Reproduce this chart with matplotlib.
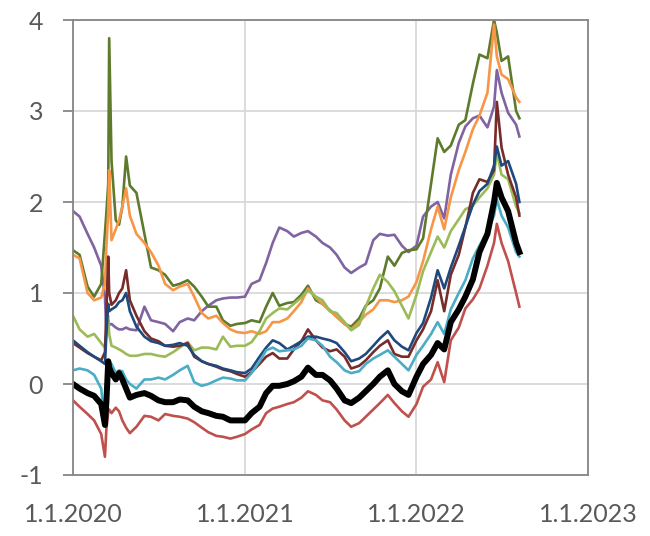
import matplotlib
matplotlib.use("Agg")
import matplotlib.pyplot as plt
import pandas as pd

plt.rcParams['font.family'] = ['Lato', 'DejaVu Sans']
plt.rcParams['axes.unicode_minus'] = False

dates_2020 = ["2020-01-01", "2020-01-15", "2020-02-01", "2020-02-15", "2020-03-01", "2020-03-09",
              "2020-03-12", "2020-03-16", "2020-03-18", "2020-03-23", "2020-04-01", "2020-04-08",
              "2020-04-15", "2020-04-23", "2020-05-01", "2020-05-15", "2020-06-01", "2020-06-15",
              "2020-07-01", "2020-07-15", "2020-08-01", "2020-08-15", "2020-09-01", "2020-09-15",
              "2020-10-01", "2020-10-15", "2020-11-01", "2020-11-15", "2020-12-01", "2020-12-15"]
dates_2021 = ["2021-01-01", "2021-01-15", "2021-02-01", "2021-02-15", "2021-03-01", "2021-03-15",
              "2021-04-01", "2021-04-15", "2021-05-01", "2021-05-15", "2021-06-01", "2021-06-15",
              "2021-07-01", "2021-07-15", "2021-08-01", "2021-08-15", "2021-09-01", "2021-09-15",
              "2021-10-01", "2021-10-15", "2021-11-01", "2021-11-15", "2021-12-01", "2021-12-15"]
dates_2022 = ["2022-01-01", "2022-01-15", "2022-02-01", "2022-02-15", "2022-03-01", "2022-03-15",
              "2022-04-01", "2022-04-15", "2022-05-01", "2022-05-15", "2022-06-01", "2022-06-15",
              "2022-06-21", "2022-07-01", "2022-07-15", "2022-08-01", "2022-08-08"]

black = [0.00, -0.05, -0.10, -0.13, -0.22, -0.45, -0.20, 0.25, 0.18, 0.12, 0.05, 0.12, 0.05, -0.05, -0.15,
         -0.12, -0.10, -0.13, -0.18, -0.20, -0.20, -0.17, -0.18, -0.25, -0.30, -0.32, -0.35, -0.36, -0.40, -0.40,
         -0.40, -0.32, -0.25, -0.10, -0.02, -0.02, 0.00, 0.03, 0.08, 0.18, 0.10, 0.10, 0.04, -0.05, -0.18,
         -0.21, -0.15, -0.08, 0.00, 0.08, 0.15, 0.00, -0.08, -0.12,
         0.08, 0.22, 0.32, 0.45, 0.38, 0.68, 0.82, 0.96, 1.15, 1.45, 1.65, 2.00, 2.21, 2.05, 1.90, 1.55, 1.45]
red = [-0.18, -0.25, -0.33, -0.40, -0.55, -0.80, -0.50, -0.30, -0.28, -0.32, -0.26, -0.30, -0.40, -0.48, -0.54,
       -0.47, -0.35, -0.36, -0.40, -0.33, -0.35, -0.36, -0.38, -0.42, -0.48, -0.53, -0.57, -0.58, -0.60, -0.58,
       -0.55, -0.50, -0.45, -0.32, -0.27, -0.25, -0.22, -0.20, -0.15, -0.08, -0.12, -0.18, -0.20, -0.28, -0.40,
       -0.47, -0.43, -0.36, -0.28, -0.21, -0.12, -0.21, -0.30, -0.36,
       -0.22, -0.03, 0.05, 0.24, 0.02, 0.48, 0.62, 0.83, 0.93, 1.05, 1.30, 1.55, 1.76, 1.55, 1.35, 1.00, 0.85]
cyan = [0.15, 0.17, 0.15, 0.10, -0.05, -0.45, -0.10, 0.12, 0.18, 0.22, 0.12, 0.15, 0.14, 0.05, 0.00,
        -0.05, 0.05, 0.05, 0.07, 0.05, 0.10, 0.15, 0.20, 0.02, -0.02, 0.00, 0.04, 0.07, 0.06, 0.04,
        0.04, 0.12, 0.25, 0.37, 0.40, 0.36, 0.37, 0.38, 0.42, 0.50, 0.48, 0.42, 0.30, 0.24, 0.15,
        0.12, 0.14, 0.22, 0.28, 0.32, 0.37, 0.30, 0.22, 0.15,
        0.32, 0.42, 0.55, 0.68, 0.55, 0.82, 1.00, 1.14, 1.38, 1.52, 1.68, 1.85, 2.03, 1.85, 1.72, 1.45, 1.40]
dark_blue = [0.48, 0.42, 0.35, 0.30, 0.25, 0.22, 0.55, 0.88, 0.80, 0.82, 0.85, 0.90, 0.92, 1.00, 0.80,
             0.63, 0.52, 0.47, 0.45, 0.42, 0.43, 0.45, 0.42, 0.32, 0.25, 0.22, 0.20, 0.17, 0.15, 0.13,
             0.12, 0.17, 0.30, 0.40, 0.48, 0.45, 0.38, 0.42, 0.47, 0.52, 0.52, 0.50, 0.48, 0.45, 0.35,
             0.25, 0.28, 0.33, 0.42, 0.50, 0.58, 0.48, 0.41, 0.37,
             0.56, 0.67, 0.95, 1.25, 1.05, 1.28, 1.52, 1.73, 1.97, 2.12, 2.20, 2.40, 2.61, 2.40, 2.45, 2.20, 2.00]
dark_red = [0.45, 0.40, 0.34, 0.30, 0.26, 0.35, 0.80, 1.40, 1.00, 0.87, 0.92, 1.00, 1.05, 1.25, 0.92,
            0.75, 0.58, 0.50, 0.47, 0.42, 0.41, 0.42, 0.45, 0.30, 0.25, 0.22, 0.19, 0.16, 0.14, 0.11,
            0.08, 0.13, 0.22, 0.30, 0.34, 0.28, 0.28, 0.38, 0.47, 0.60, 0.48, 0.40, 0.36, 0.38, 0.30,
            0.17, 0.20, 0.26, 0.35, 0.42, 0.48, 0.33, 0.30, 0.30,
            0.48, 0.60, 0.80, 1.14, 0.80, 1.20, 1.42, 1.72, 2.10, 2.25, 2.22, 2.35, 3.10, 2.60, 2.30, 2.05, 1.85]
light_green = [0.75, 0.60, 0.52, 0.55, 0.45, 0.40, 0.55, 0.75, 0.55, 0.42, 0.40, 0.38, 0.36, 0.33, 0.31,
               0.31, 0.33, 0.33, 0.31, 0.30, 0.35, 0.40, 0.46, 0.37, 0.40, 0.40, 0.38, 0.52, 0.41, 0.42,
               0.42, 0.46, 0.58, 0.72, 0.78, 0.83, 0.82, 0.88, 0.95, 1.03, 0.96, 0.92, 0.80, 0.78, 0.68,
               0.59, 0.65, 0.85, 1.05, 1.20, 1.12, 1.02, 0.86, 0.72,
               0.98, 1.24, 1.45, 1.62, 1.50, 1.68, 1.81, 1.92, 1.96, 2.05, 2.15, 2.30, 2.54, 2.30, 2.25, 1.95, 1.88]
orange = [1.42, 1.38, 1.00, 0.92, 0.95, 1.10, 1.50, 1.90, 2.35, 1.58, 1.70, 1.80, 1.95, 2.15, 1.85,
          1.65, 1.55, 1.45, 1.30, 1.10, 1.03, 1.07, 1.10, 0.96, 0.78, 0.72, 0.75, 0.67, 0.60, 0.57,
          0.56, 0.58, 0.55, 0.58, 0.68, 0.68, 0.72, 0.80, 0.90, 1.05, 0.95, 0.88, 0.80, 0.74, 0.66,
          0.60, 0.68, 0.76, 0.82, 0.92, 0.92, 0.90, 0.92, 0.96,
          1.12, 1.35, 1.70, 1.95, 1.70, 2.05, 2.35, 2.55, 2.80, 2.95, 3.20, 3.95, 3.60, 3.40, 3.35, 3.15, 3.10]
olive = [1.47, 1.42, 1.07, 0.96, 1.10, 1.66, 1.88, 2.20, 3.80, 2.45, 1.80, 1.75, 1.95, 2.50, 2.18,
         2.10, 1.65, 1.28, 1.25, 1.20, 1.08, 1.10, 1.14, 1.07, 0.96, 0.85, 0.85, 0.70, 0.64, 0.66,
         0.67, 0.70, 0.68, 0.85, 1.00, 0.86, 0.89, 0.90, 0.98, 1.08, 0.92, 0.88, 0.81, 0.74, 0.66,
         0.63, 0.72, 0.86, 0.92, 1.05, 1.40, 1.30, 1.44, 1.47,
         1.48, 1.60, 2.20, 2.70, 2.55, 2.62, 2.85, 2.90, 3.30, 3.62, 3.58, 4.00, 3.86, 3.55, 3.60, 3.00, 2.92]
purple = [1.90, 1.84, 1.65, 1.50, 1.30, 0.95, 0.60, 0.70, 0.65, 0.66, 0.62, 0.60, 0.60, 0.62, 0.60,
          0.59, 0.85, 0.70, 0.68, 0.66, 0.58, 0.68, 0.72, 0.70, 0.80, 0.86, 0.92, 0.94, 0.95, 0.95,
          0.96, 1.10, 1.14, 1.33, 1.55, 1.72, 1.68, 1.62, 1.66, 1.68, 1.62, 1.55, 1.50, 1.42, 1.28,
          1.22, 1.28, 1.32, 1.58, 1.65, 1.63, 1.64, 1.52, 1.45,
          1.52, 1.84, 1.95, 2.00, 1.82, 2.30, 2.65, 2.83, 2.92, 2.95, 2.82, 3.05, 3.45, 3.20, 2.98, 2.85, 2.72]

x_ticks = ["2020-01-01", "2021-01-01", "2022-01-01", "2023-01-01"]
x_tick_labels = ["1.1.2020", "1.1.2021", "1.1.2022", "1.1.2023"]
y_ticks = [-1, 0, 1, 2, 3, 4]

dates = pd.to_datetime(dates_2020 + dates_2021 + dates_2022)

fig = plt.figure(figsize=(6.5, 5.36), dpi=100)
ax = fig.add_axes([73/650, 1 - 475/536, 515/650, 455/536])

series = [
    (purple, "#8064A2", 1.9),
    (olive, "#5E7A2C", 1.9),
    (orange, "#F79646", 1.9),
    (light_green, "#9BBB59", 1.9),
    (dark_red, "#772C2A", 1.9),
    (dark_blue, "#1F497D", 1.9),
    (cyan, "#4BACC6", 1.9),
    (red, "#C0504D", 1.9),
    (black, "#000000", 4.3),
]
for vals, col, lw in series:
    ax.plot(dates, vals, color=col, lw=lw, solid_joinstyle="round")

ax.set_xlim(pd.Timestamp(x_ticks[0]), pd.Timestamp(x_ticks[-1]))
ax.set_ylim(-1, 4)
ax.set_xticks(pd.to_datetime(x_ticks))
ax.set_xticklabels(x_tick_labels)
ax.set_yticks(y_ticks)
ax.grid(True, color="#D9D9D9", lw=1.3)
ax.set_axisbelow(True)
for s in ax.spines.values():
    s.set_color("#868686")
    s.set_linewidth(1.3)
ax.tick_params(axis="y", length=7.5, width=1.3, color="#868686", pad=14,
               labelsize=18, labelcolor="#595959")
ax.tick_params(axis="x", length=0, pad=20, labelsize=18, labelcolor="#595959")

fig.savefig("out.png", dpi=100)
